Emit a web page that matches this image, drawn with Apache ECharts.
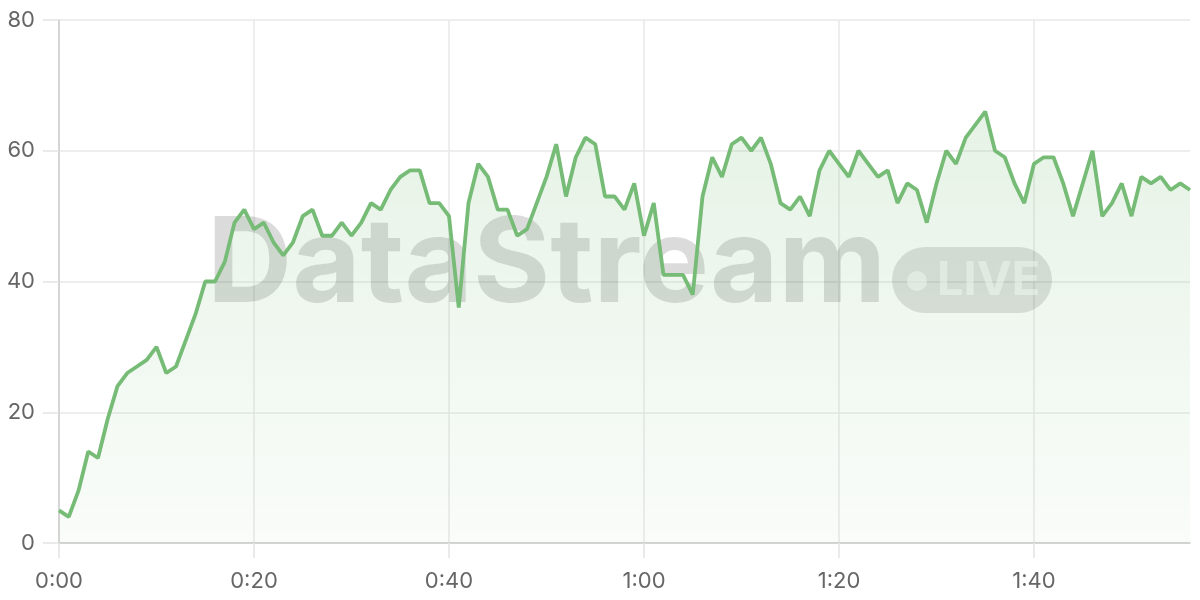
<!DOCTYPE html>
<html>
<head>
<meta charset="utf-8">
<script src="https://cdn.jsdelivr.net/npm/echarts@6/dist/echarts.min.js"></script>
<style>
  html, body { margin: 0; padding: 0; background: #fff; }
  #chart1 { width: 1200px; height: 600px; }
</style>
</head>
<body>
<div id="chart1"></div>
<script>
// samples, one per second
var values = [
    5, 4, 8, 14, 13, 19, 24, 26, 27, 28,
    30, 26, 27, 31, 35, 40, 40, 43, 49, 51,
    48, 49, 46, 44, 46, 50, 51, 47, 47, 49,
    47, 49, 52, 51, 54, 56, 57, 57, 52, 52,
    50, 36, 52, 58, 56, 51, 51, 47, 48, 52,
    56, 61, 53, 59, 62, 61, 53, 53, 51, 55,
    47, 52, 41, 41, 41, 38, 53, 59, 56, 61,
    62, 60, 62, 58, 52, 51, 53, 50, 57, 60,
    58, 56, 60, 58, 56, 57, 52, 55, 54, 49,
    55, 60, 58, 62, 64, 66, 60, 59, 55, 52,
    58, 59, 59, 55, 50, 55, 60, 50, 52, 55,
    50, 56, 55, 56, 54, 55, 54
];
// x categories: elapsed time m:ss
var categories = values.map(function (v, i) {
    var s = i % 60;
    return Math.floor(i / 60) + ':' + (s < 10 ? '0' + s : s);
});
var yTicks = [0, 20, 40, 60, 80];

var myChart = echarts.init(document.getElementById('chart1'));
var option = {
    animation: false,
    textStyle: { fontFamily: 'Inter' },
    grid: { left: 59, right: 10, top: 20, bottom: 57 },
    graphic: [
        {
            type: 'text', z: 1, silent: true,
            left: 207, top: 208,
            style: {
                text: 'DataStream',
                font: 'bold 118px Inter',
                fill: 'rgba(0,0,0,0.14)'
            }
        },
        {
            type: 'rect', z: 1, silent: true,
            shape: { x: 892, y: 247, width: 160, height: 66, r: 33 },
            style: { fill: 'rgba(0,0,0,0.12)' }
        },
        {
            type: 'circle', z: 1, silent: true,
            shape: { cx: 917, cy: 281, r: 10 },
            style: { fill: 'rgba(255,255,255,0.55)' }
        },
        {
            type: 'text', z: 1, silent: true,
            left: 937, top: 257,
            style: {
                text: 'LIVE',
                font: 'bold 47px Inter',
                fill: 'rgba(255,255,255,0.55)'
            }
        }
    ],
    xAxis: {
        type: 'category',
        boundaryGap: false,
        data: categories,
        axisLine: { lineStyle: { color: '#cccccc', width: 1.5 } },
        axisTick: { show: true, length: 15, interval: 19, lineStyle: { color: '#e3e3e3', width: 1.5 } },
        axisLabel: { interval: 19, margin: 27, fontSize: 22, color: '#666666' },
        splitLine: { show: true, interval: 19, lineStyle: { color: '#e8e8e8', width: 1.5 } }
    },
    yAxis: {
        type: 'value',
        min: yTicks[0],
        max: yTicks[yTicks.length - 1],
        interval: 20,
        axisLine: { show: true, lineStyle: { color: '#cccccc', width: 1.5 } },
        axisTick: { show: true, length: 16, lineStyle: { color: '#e3e3e3', width: 1.5 } },
        axisLabel: { margin: 24, fontSize: 22, color: '#666666' },
        splitLine: { show: true, lineStyle: { color: '#e8e8e8', width: 1.5 } }
    },
    series: [
        {
            name: 'stream',
            type: 'line',
            z: 3,
            data: values,
            showSymbol: false,
            symbol: 'none',
            lineStyle: { color: '#76bb76', width: 3.8 },
            areaStyle: {
                color: new echarts.graphic.LinearGradient(0, 0, 0, 1, [
                    { offset: 0, color: 'rgba(118,187,118,0.26)' },
                    { offset: 1, color: 'rgba(118,187,118,0.06)' }
                ])
            }
        }
    ]
};
myChart.setOption(option);
</script>
</body>
</html>
